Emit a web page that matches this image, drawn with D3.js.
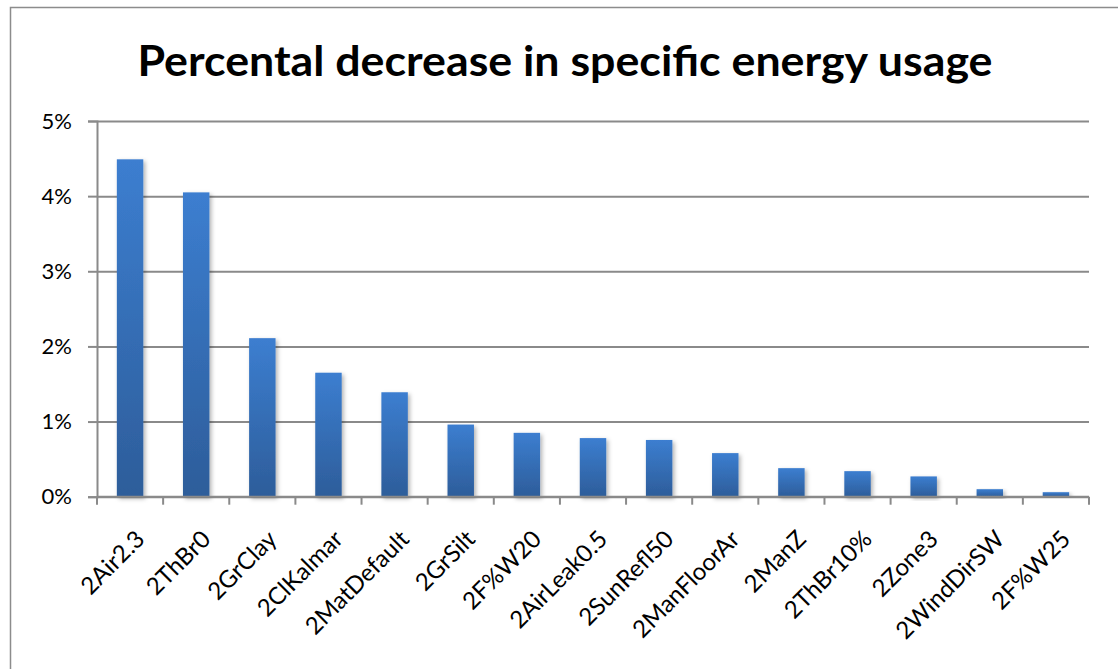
<!DOCTYPE html>
<html>
<head>
<meta charset="utf-8">
<script src="https://cdn.jsdelivr.net/npm/d3@7/dist/d3.min.js"></script>
<style>
  html, body { margin: 0; padding: 0; background: #fff; }
  svg { display: block; }
</style>
</head>
<body>
<svg id="chart" width="1118" height="669"></svg>
<script>
// Scenario names and their percentage decrease in specific energy usage
const categories = ["2Air2.3", "2ThBr0", "2GrClay", "2ClKalmar", "2MatDefault", "2GrSilt",
  "2F%W20", "2AirLeak0.5", "2SunRefl50", "2ManFloorAr", "2ManZ", "2ThBr10%",
  "2Zone3", "2WindDirSW", "2F%W25"];
const decreasePct = [4.49, 4.05, 2.11, 1.65, 1.39, 0.96, 0.85, 0.78, 0.755, 0.58, 0.38, 0.34, 0.27, 0.10, 0.06];
const yTicks = [0, 1, 2, 3, 4, 5];
const titleText = "Percental decrease in specific energy usage";

const svg = d3.select("#chart");
const font = "Lato, 'Open Sans', 'DejaVu Sans', sans-serif";

// outer chart frame
svg.append("rect")
  .attr("x", 10.5).attr("y", 7.5)
  .attr("width", 1200).attr("height", 800)
  .attr("fill", "#fff").attr("stroke", "#8c8c8c").attr("stroke-width", 1.5);

const plot = { left: 97, right: 1089, top: 121, bottom: 496.7 };

const x = d3.scaleBand().domain(categories).range([plot.left, plot.right]).paddingInner(0.6).paddingOuter(0.3);
const y = d3.scaleLinear().domain([0, 5]).range([plot.bottom, plot.top]);

const defs = svg.append("defs");
const grad = defs.append("linearGradient").attr("id", "barFill")
  .attr("x1", 0).attr("y1", 0).attr("x2", 0).attr("y2", 1);
grad.append("stop").attr("offset", "0%").attr("stop-color", "#3c7ed0");
grad.append("stop").attr("offset", "100%").attr("stop-color", "#2d5d9a");

const shadow = defs.append("filter").attr("id", "barShadow")
  .attr("x", "-30%").attr("y", "-10%").attr("width", "170%").attr("height", "130%");
shadow.append("feDropShadow").attr("dx", 2).attr("dy", 2).attr("stdDeviation", 2)
  .attr("flood-color", "#000").attr("flood-opacity", 0.3);

// horizontal gridlines
svg.append("g")
  .attr("transform", `translate(${plot.left},0)`)
  .call(d3.axisLeft(y).tickValues(yTicks).tickSize(-(plot.right - plot.left)).tickFormat(""))
  .call(g => g.select(".domain").remove())
  .call(g => g.selectAll("line").attr("stroke", "#8a8a8a").attr("stroke-width", 2));

// bars
svg.append("g").selectAll("rect")
  .data(categories.map((c, i) => ({ c, v: decreasePct[i] })))
  .join("rect")
  .attr("x", d => x(d.c))
  .attr("width", x.bandwidth())
  .attr("y", d => y(d.v))
  .attr("height", d => y(0) - y(d.v))
  .attr("fill", "url(#barFill)")
  .attr("filter", "url(#barShadow)");

// y axis
const yAxis = svg.append("g")
  .attr("transform", `translate(${plot.left},0)`)
  .call(d3.axisLeft(y).tickValues(yTicks).tickSize(9).tickPadding(16).tickFormat(d => d + "%"));
yAxis.select(".domain").attr("stroke", "#8a8a8a").attr("stroke-width", 2);
yAxis.selectAll("line").attr("stroke", "#8a8a8a").attr("stroke-width", 2);
yAxis.selectAll("text").attr("font-family", font).attr("font-size", 22).attr("fill", "#000");

// x axis: ticks at category boundaries
const bounds = d3.range(categories.length + 1).map(i => plot.left + i * (plot.right - plot.left) / categories.length);
const xAxis = svg.append("g");
xAxis.append("line")
  .attr("x1", plot.left).attr("x2", plot.right)
  .attr("y1", y(0)).attr("y2", y(0))
  .attr("stroke", "#8a8a8a").attr("stroke-width", 2);
xAxis.selectAll("line.tick").data(bounds).join("line").attr("class", "tick")
  .attr("x1", d => d).attr("x2", d => d)
  .attr("y1", y(0)).attr("y2", y(0) + 8)
  .attr("stroke", "#8a8a8a").attr("stroke-width", 2);

// rotated category labels
xAxis.selectAll("text").data(categories).join("text")
  .attr("transform", c => `translate(${x(c) + x.bandwidth() / 2 + 10},${y(0) + 38}) rotate(-45)`)
  .attr("text-anchor", "end")
  .attr("dy", "0.35em")
  .attr("font-family", font).attr("font-size", 24).attr("fill", "#000")
  .text(c => c);

// title
svg.append("text")
  .attr("x", 565).attr("y", 76)
  .attr("text-anchor", "middle")
  .attr("font-family", font).attr("font-weight", "bold").attr("font-size", 42)
  .attr("textLength", 855).attr("lengthAdjust", "spacingAndGlyphs")
  .attr("fill", "#000")
  .text(titleText);
</script>
</body>
</html>
